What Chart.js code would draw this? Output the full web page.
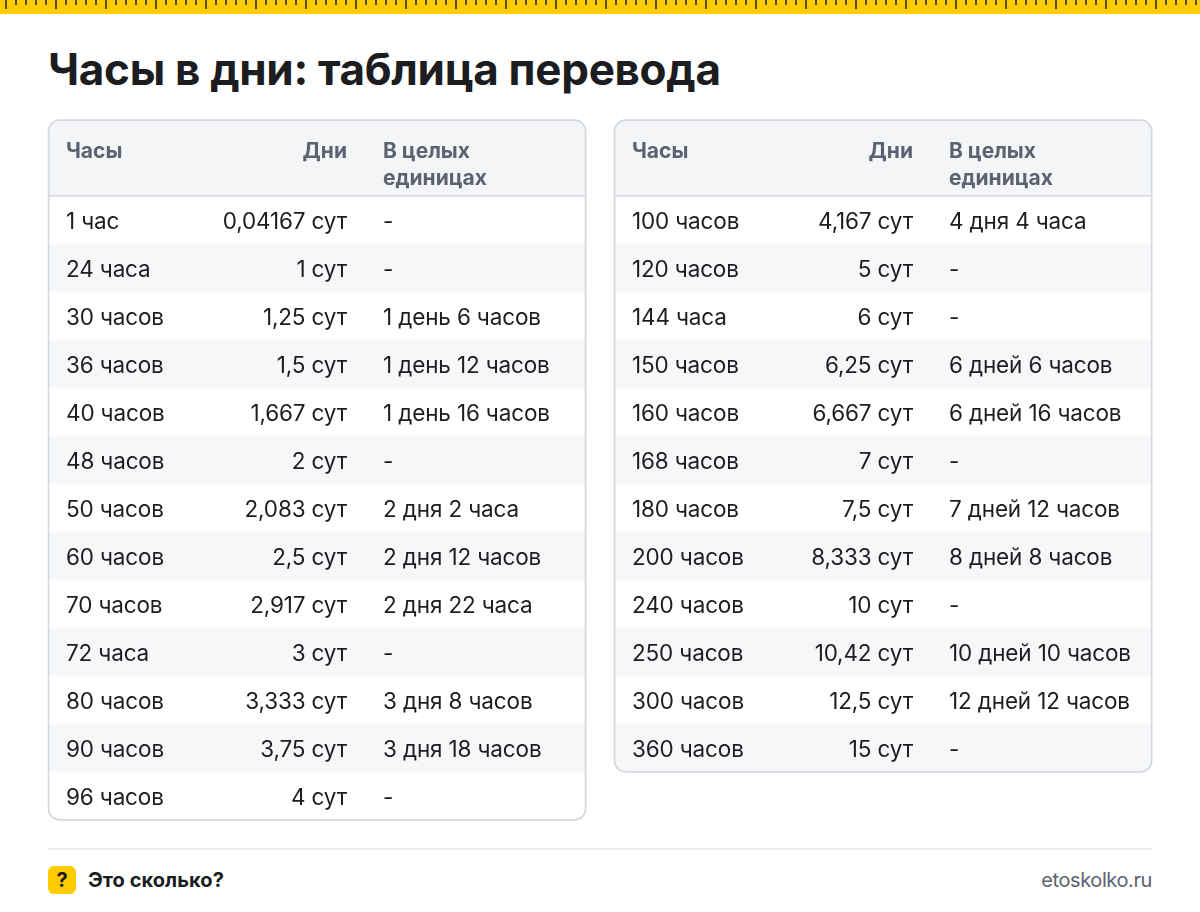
<!DOCTYPE html>
<html lang="ru">
<head>
<meta charset="utf-8">
<title>Часы в дни: таблица перевода</title>
<script src="https://cdn.jsdelivr.net/npm/chart.js@4"></script>
<style>
html, body { margin: 0; padding: 0; background: #fff; }
body { position: relative; width: 1200px; height: 912px; overflow: hidden; font-family: Inter, sans-serif; color: #1b1d21; }
#ruler {
    position: absolute; left: 0; top: 0; width: 1200px; height: 14px; background-color: #ffcc00;
    background-image:
        repeating-linear-gradient(90deg, transparent 0 5px, #5a4c14 5px 7px, transparent 7px 50px),
        repeating-linear-gradient(90deg, transparent 0 5px, #5a4c14 5px 7px, transparent 7px 10px);
    background-size: 1200px 9px, 1200px 5px;
    background-repeat: no-repeat;
}
h1 { position: absolute; left: 48px; top: 42px; margin: 0; font-size: 44px; line-height: 54px; font-weight: 700; white-space: nowrap; letter-spacing: -0.3px; }
canvas { position: absolute; top: 119px; }
#c1 { left: 47px; }
#c2 { left: 613px; }
#rule { position: absolute; left: 48px; top: 848px; width: 1104px; height: 2px; background: #e8ebef; }
#badge { position: absolute; left: 48px; top: 866px; width: 28px; height: 28px; border-radius: 6px; background: #ffcc00; font-size: 20px; font-weight: 700; line-height: 28px; text-align: center; }
#brand { position: absolute; left: 88px; top: 866px; font-size: 20px; font-weight: 700; line-height: 28px; letter-spacing: 0.05px; }
#site { position: absolute; right: 48px; top: 866px; font-size: 20px; line-height: 28px; color: #5b6370; letter-spacing: -0.4px; }
</style>
</head>
<body>
<div id="ruler"></div>
<h1>Часы в дни: таблица перевода</h1>
<canvas id="c1" width="540" height="703"></canvas>
<canvas id="c2" width="540" height="655"></canvas>
<div id="rule"></div>
<div id="badge">?</div>
<div id="brand">Это сколько?</div>
<div id="site">etoskolko.ru</div>
<script>
'use strict';

const headHours = 'Часы';
const headDays = 'Дни';
const headWhole = ['В целых', 'единицах'];

const leftHours = ['1 час', '24 часа', '30 часов', '36 часов', '40 часов', '48 часов', '50 часов', '60 часов', '70 часов', '72 часа', '80 часов', '90 часов', '96 часов'];
const leftDays = ['0,04167 сут', '1 сут', '1,25 сут', '1,5 сут', '1,667 сут', '2 сут', '2,083 сут', '2,5 сут', '2,917 сут', '3 сут', '3,333 сут', '3,75 сут', '4 сут'];
const leftWhole = ['-', '-', '1 день 6 часов', '1 день 12 часов', '1 день 16 часов', '-', '2 дня 2 часа', '2 дня 12 часов', '2 дня 22 часа', '-', '3 дня 8 часов', '3 дня 18 часов', '-'];

const rightHours = ['100 часов', '120 часов', '144 часа', '150 часов', '160 часов', '168 часов', '180 часов', '200 часов', '240 часов', '250 часов', '300 часов', '360 часов'];
const rightDays = ['4,167 сут', '5 сут', '6 сут', '6,25 сут', '6,667 сут', '7 сут', '7,5 сут', '8,333 сут', '10 сут', '10,42 сут', '12,5 сут', '15 сут'];
const rightWhole = ['4 дня 4 часа', '-', '-', '6 дней 6 часов', '6 дней 16 часов', '-', '7 дней 12 часов', '8 дней 8 часов', '-', '10 дней 10 часов', '12 дней 12 часов', '-'];

const BORDER = '#d5d9e1';
const HEAD_BG = '#f4f5f7';
const STRIPE = '#f6f7f9';
const TEXT = '#1b1d21';
const HEAD_TEXT = '#5b6370';
const RADIUS = 11;

function boxPath(ctx, chart) {
    ctx.beginPath();
    ctx.roundRect(1.6, 1.2, 537, chart.height - 3.4, RADIUS);
}

// header, cell texts and the frame are painted around the stripe bars
const tablePlugin = {
    id: 'table',
    beforeDraw(chart) {
        const ctx = chart.ctx;
        ctx.save();
        boxPath(ctx, chart);
        ctx.clip();
        ctx.fillStyle = HEAD_BG;
        ctx.fillRect(0, 0, chart.width, chart.chartArea.top);
        ctx.restore();
    },
    beforeDatasetsDraw(chart) {
        chart.ctx.save();
        boxPath(chart.ctx, chart);
        chart.ctx.clip();
    },
    afterDatasetsDraw(chart) {
        chart.ctx.restore();
    },
    afterDraw(chart, args, opts) {
        const ctx = chart.ctx;
        const y = chart.scales.y;
        ctx.save();
        ctx.textBaseline = 'middle';

        ctx.fillStyle = HEAD_TEXT;
        ctx.font = '700 21px Inter';
        ctx.textAlign = 'left';
        ctx.fillText(headHours, 19, 33);
        ctx.fillText(headWhole[0], 336, 33);
        ctx.fillText(headWhole[1], 336, 60);
        ctx.textAlign = 'right';
        ctx.fillText(headDays, 300, 33);

        ctx.fillStyle = TEXT;
        ctx.font = '400 22.5px Inter';
        ctx.letterSpacing = '-0.15px';
        opts.hours.forEach((h, i) => {
            const py = y.getPixelForValue(i) + 2;
            ctx.textAlign = 'left';
            ctx.fillText(h, 19, py);
            ctx.fillText(opts.whole[i], 336, py);
            ctx.textAlign = 'right';
            ctx.fillText(opts.days[i], 300, py);
        });
        ctx.letterSpacing = '0px';

        ctx.fillStyle = BORDER;
        ctx.fillRect(1.6, chart.chartArea.top - 0.95, 537, 1.6);
        ctx.strokeStyle = BORDER;
        ctx.lineWidth = 1.8;
        boxPath(ctx, chart);
        ctx.stroke();
        ctx.restore();
    }
};

function makeTable(id, hours, days, whole) {
    new Chart(document.getElementById(id), {
        type: 'bar',
        data: {
            labels: hours,
            datasets: [{
                data: hours.map((h, i) => i % 2),
                backgroundColor: STRIPE,
                borderWidth: 0,
                barPercentage: 1,
                categoryPercentage: 1
            }]
        },
        options: {
            indexAxis: 'y',
            responsive: false,
            animation: false,
            layout: { padding: { top: 77, bottom: 2 } },
            scales: {
                x: { display: false, min: 0, max: 1 },
                y: { display: false }
            },
            plugins: {
                legend: { display: false },
                tooltip: { enabled: false },
                table: { hours: hours, days: days, whole: whole }
            }
        },
        plugins: [tablePlugin]
    });
}

makeTable('c1', leftHours, leftDays, leftWhole);
makeTable('c2', rightHours, rightDays, rightWhole);
</script>
</body>
</html>
